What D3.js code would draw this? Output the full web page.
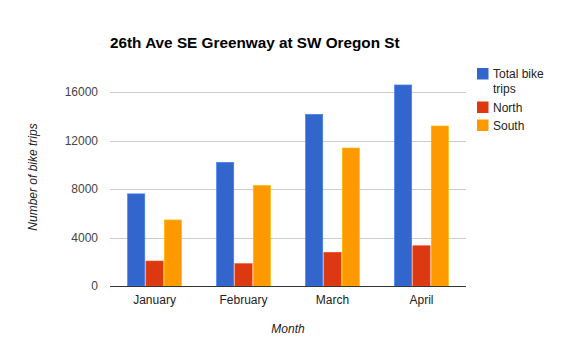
<!DOCTYPE html>
<html><head><meta charset="utf-8">
<script src="https://cdn.jsdelivr.net/npm/d3@7"></script>
<style>body{margin:0;background:#fff;} text{font-family:Arial,"Liberation Sans",sans-serif;}</style>
</head><body>
<svg id="c" width="575" height="355"></svg>
<script>
const categories = ["January", "February", "March", "April"];
const seriesNames = ["Total bike trips", "North", "South"];
const totalTrips = [7600, 10200, 14160, 16580];
const northTrips = [2060, 1840, 2780, 3320];
const southTrips = [5450, 8300, 11380, 13200];
const yTicks = [0, 4000, 8000, 12000, 16000];
const colors = ["#3366cc", "#dc3912", "#ff9900"];

const series = [totalTrips, northTrips, southTrips];
const svg = d3.select("#c");
const left = 110, right = 466, y0 = 286, y16 = 92;

const x = d3.scaleBand().domain(categories).range([left, right]).paddingInner(0.393).paddingOuter(0.197);
const xs = d3.scaleBand().domain(d3.range(series.length)).range([0, x.bandwidth()]).paddingInner(0.06);
const y = d3.scaleLinear().domain([0, 16000]).range([y0, y16]);

// gridlines
svg.append("g").selectAll("line").data(yTicks.filter(d => d > 0)).join("line")
  .attr("x1", left).attr("x2", right)
  .attr("y1", d => Math.round(y(d)) + 0.5).attr("y2", d => Math.round(y(d)) + 0.5)
  .attr("stroke", "#cccccc").attr("stroke-width", 1);

// y axis labels
const yAxis = d3.axisLeft(y).tickValues(yTicks).tickFormat(d3.format("d")).tickSize(0).tickPadding(12);
const ya = svg.append("g").attr("transform", `translate(${left},0)`).call(yAxis);
ya.select(".domain").remove();
ya.selectAll("text").attr("font-size", 12).attr("fill", "#444").attr("font-family", "Arial, 'Liberation Sans', sans-serif");

// bars
const groups = svg.append("g").selectAll("g").data(categories).join("g")
  .attr("transform", d => `translate(${x(d)},0)`);
groups.selectAll("rect").data((d, i) => series.map((s, k) => ({k, v: s[i]}))).join("rect")
  .attr("x", d => xs(d.k)).attr("width", xs.bandwidth())
  .attr("y", d => y(d.v)).attr("height", d => y0 - y(d.v))
  .attr("fill", d => colors[d.k])
  .attr("stroke", d => d3.color(colors[d.k]).brighter(0.6)).attr("stroke-width", 0.6);

// baseline
svg.append("line").attr("x1", left).attr("x2", right).attr("y1", y0 + 0.5).attr("y2", y0 + 0.5)
  .attr("stroke", "#333").attr("stroke-width", 1);

// x axis labels
const xAxis = d3.axisBottom(x).tickSize(0).tickPadding(9);
const xa = svg.append("g").attr("transform", `translate(0,${y0})`).call(xAxis);
xa.select(".domain").remove();
xa.selectAll("text").attr("font-size", 12).attr("fill", "#222").attr("font-family", "Arial, 'Liberation Sans', sans-serif");

// title
svg.append("text").attr("x", 110).attr("y", 48).attr("font-size", 15.3).attr("font-weight", "bold")
  .attr("fill", "#000").text("26th Ave SE Greenway at SW Oregon St");

// axis titles
svg.append("text").attr("x", 288).attr("y", 333).attr("text-anchor", "middle")
  .attr("font-size", 12).attr("font-style", "italic").attr("fill", "#222").text("Month");
svg.append("text").attr("transform", "translate(37,177) rotate(-90)").attr("text-anchor", "middle")
  .attr("font-size", 12).attr("font-style", "italic").attr("fill", "#222").text("Number of bike trips");

// legend
const legY = [68, 101.5, 119.5];
const leg = svg.append("g");
seriesNames.forEach((n, i) => {
  leg.append("rect").attr("x", 477).attr("y", legY[i]).attr("width", 11.5).attr("height", 11.5).attr("fill", colors[i]);
});
leg.append("text").attr("x", 493).attr("y", 78).attr("font-size", 12).attr("fill", "#222")
  .selectAll("tspan").data(["Total bike", "trips"]).join("tspan")
  .attr("x", 493).attr("dy", (d, i) => i === 0 ? 0 : 15).text(d => d);
leg.append("text").attr("x", 493).attr("y", 111.5).attr("font-size", 12).attr("fill", "#222").text(seriesNames[1]);
leg.append("text").attr("x", 493).attr("y", 129.5).attr("font-size", 12).attr("fill", "#222").text(seriesNames[2]);
</script>
</body></html>
